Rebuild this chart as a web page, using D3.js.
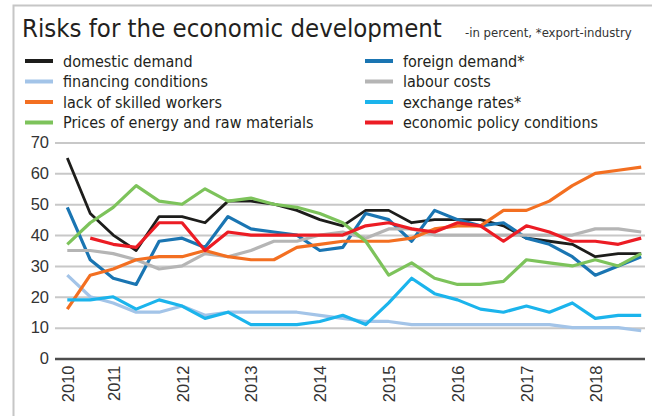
<!DOCTYPE html>
<html>
<head>
<meta charset="utf-8">
<script src="https://cdn.jsdelivr.net/npm/d3@7"></script>
<style>
	html, body { margin: 0; padding: 0; background: #fff; }
	svg { display: block; }
	.title { font-family: "DejaVu Sans Condensed", "DejaVu Sans", sans-serif; font-stretch: condensed; fill: #231f20; }
	.legend text { font-family: "DejaVu Sans Condensed", "DejaVu Sans", sans-serif; font-stretch: condensed; font-size: 16px; fill: #231f20; }
	.axis text { font-family: "Liberation Sans", Arial, sans-serif; font-size: 16.5px; fill: #333; }
</style>
</head>
<body>
<div id="chart"></div>
<script>
// survey rounds: two in 2010, then three per year
const periods = [
	'2010-2', '2010-3',
	'2011-1', '2011-2', '2011-3',
	'2012-1', '2012-2', '2012-3',
	'2013-1', '2013-2', '2013-3',
	'2014-1', '2014-2', '2014-3',
	'2015-1', '2015-2', '2015-3',
	'2016-1', '2016-2', '2016-3',
	'2017-1', '2017-2', '2017-3',
	'2018-1', '2018-2', '2018-3',
];
const yearLabels = ['2010', '2011', '2012', '2013', '2014', '2015', '2016', '2017', '2018'];
const yTicks = [0, 10, 20, 30, 40, 50, 60, 70];

const domesticDemand = [65, 47, 40, 35, 46, 46, 44, 51, 51, 50, 48, 45, 43, 48, 48, 44, 45, 45, 45, 43, 39, 38, 37, 33, 34, 34];
const foreignDemand = [49, 32, 26, 24, 38, 39, 36, 46, 42, 41, 40, 35, 36, 47, 45, 38, 48, 45, 43, 44, 39, 37, 33, 27, 30, 33];
const financingConditions = [27, 20, 18, 15, 15, 17, 14, 15, 15, 15, 15, 14, 13, 12, 12, 11, 11, 11, 11, 11, 11, 11, 10, 10, 10, 9];
const labourCosts = [35, 35, 34, 32, 29, 30, 34, 33, 35, 38, 38, 40, 41, 39, 42, 42, 40, 40, 40, 40, 40, 40, 40, 42, 42, 41];
const skilledWorkers = [16, 27, 29, 32, 33, 33, 35, 33, 32, 32, 36, 37, 38, 38, 38, 39, 42, 43, 43, 48, 48, 51, 56, 60, 61, 62];
const exchangeRates = [19, 19, 20, 16, 19, 17, 13, 15, 11, 11, 11, 12, 14, 11, 18, 26, 21, 19, 16, 15, 17, 15, 18, 13, 14, 14];
const energyPrices = [37, 44, 49, 56, 51, 50, 55, 51, 52, 50, 49, 47, 44, 38, 27, 31, 26, 24, 24, 25, 32, 31, 30, 32, 30, 34];
const policyConditions = [null, 39, 37, 36, 44, 44, 35, 41, 40, 40, 40, 40, 40, 43, 44, 42, 41, 44, 43, 38, 43, 41, 38, 38, 37, 39];

const seriesNames = [
	'domestic demand', 'foreign demand*',
	'financing conditions', 'labour costs',
	'lack of skilled workers', 'exchange rates*',
	'Prices of energy and raw materials', 'economic policy conditions',
];
const seriesValues = [
	domesticDemand, foreignDemand,
	financingConditions, labourCosts,
	skilledWorkers, exchangeRates,
	energyPrices, policyConditions,
];
const seriesColors = ['#1d1d1b', '#1a75b2', '#a3c4e8', '#b5b5b5', '#f36f21', '#1bb4ec', '#7dc35b', '#ec1c24'];

class RiskChart {
	constructor(parent) {
		this.dims = {
			width: 652,
			height: 416,
			plot: { left: 55, right: 645, top: 142.5, bottom: 358.5 },
			firstPoint: 67.3,
			lastPoint: 641.2,
		};
		this.svg = parent.append('svg')
			.attr('width', this.dims.width)
			.attr('height', this.dims.height);

		this._createScales();
		this._drawFrame();
		this._drawLegend();
		this._drawAxes();
		this._drawLines();
	}

	/** Helper method. Point scale over the survey rounds, linear scale for percent. */
	_createScales() {
		this.x = d3.scalePoint()
			.domain(periods)
			.range([this.dims.firstPoint, this.dims.lastPoint]);

		this.y = d3.scaleLinear()
			.domain([0, 70])
			.range([this.dims.plot.bottom, this.dims.plot.top]);
	}

	/** Helper method. Grey frame and the two title texts. */
	_drawFrame() {
		this.svg.append('path')
			.attr('d', `M13.5,${this.dims.height} V5.5 H${this.dims.width}`)
			.attr('fill', 'none')
			.attr('stroke', '#c6c6c6')
			.attr('stroke-width', 2);

		this.svg.append('text')
			.classed('title', true)
			.attr('x', 22)
			.attr('y', 37)
			.style('font-size', '25.5px')
			.text('Risks for the economic development');

		this.svg.append('text')
			.classed('title', true)
			.attr('x', 465)
			.attr('y', 37)
			.style('font-size', '13px')
			.style('fill', '#333')
			.text('-in percent, *export-industry');
	}

	_drawLegend() {
		const legend = this.svg.append('g').classed('legend', true);
		const items = legend.selectAll('g')
			.data(seriesNames)
			.enter()
			.append('g')
			.attr('transform', (d, i) => `translate(${i % 2 === 0 ? 25 : 365}, ${61 + Math.floor(i / 2) * 20.5})`);

		items.append('line')
			.attr('x1', 0)
			.attr('x2', 28)
			.attr('stroke', (d, i) => seriesColors[i])
			.attr('stroke-width', 4);

		items.append('text')
			.attr('x', 38)
			.attr('dy', '0.35em')
			.text(d => d);
	}

	_drawAxes() {
		const p = this.dims.plot;

		const yAxis = this.svg.append('g')
			.classed('axis', true)
			.attr('transform', `translate(${p.left}, 0)`)
			.call(d3.axisLeft(this.y)
				.tickValues(yTicks)
				.tickSize(-(p.right - p.left))
				.tickPadding(6));
		yAxis.select('.domain').remove();
		yAxis.selectAll('.tick line')
			.attr('stroke', d => d === 0 ? '#4d4d4d' : '#c8c8c8')
			.attr('stroke-width', d => d === 0 ? 2.5 : 2);
		yAxis.selectAll('.tick text').attr('fill', null);

		// one label at the first survey round of every year
		const yearTicks = yearLabels.map(yr => periods.find(pd => pd.startsWith(yr)));
		const xAxis = this.svg.append('g')
			.classed('axis', true)
			.attr('transform', `translate(0, ${p.bottom})`)
			.call(d3.axisBottom(this.x)
				.tickValues(yearTicks)
				.tickSize(0)
				.tickFormat(d => d.slice(0, 4)));
		xAxis.select('.domain').remove();
		xAxis.selectAll('.tick text')
			.attr('fill', null)
			.attr('transform', 'rotate(-90)')
			.attr('x', -7)
			.attr('y', 0)
			.attr('dy', '0.36em')
			.attr('text-anchor', 'end');
	}

	_drawLines() {
		const line = d3.line()
			.defined(d => d.value !== null)
			.x(d => this.x(d.period))
			.y(d => this.y(d.value));

		this.svg.append('g')
			.selectAll('path')
			.data(seriesValues.map(vals => vals.map((v, i) => ({ period: periods[i], value: v }))))
			.enter()
			.append('path')
			.attr('d', line)
			.attr('fill', 'none')
			.attr('stroke', (d, i) => seriesColors[i])
			.attr('stroke-width', (d, i) => i === 0 ? 2.8 : 3.2)
			.attr('stroke-linejoin', 'round');
	}
}

new RiskChart(d3.select('#chart'));
</script>
</body>
</html>
